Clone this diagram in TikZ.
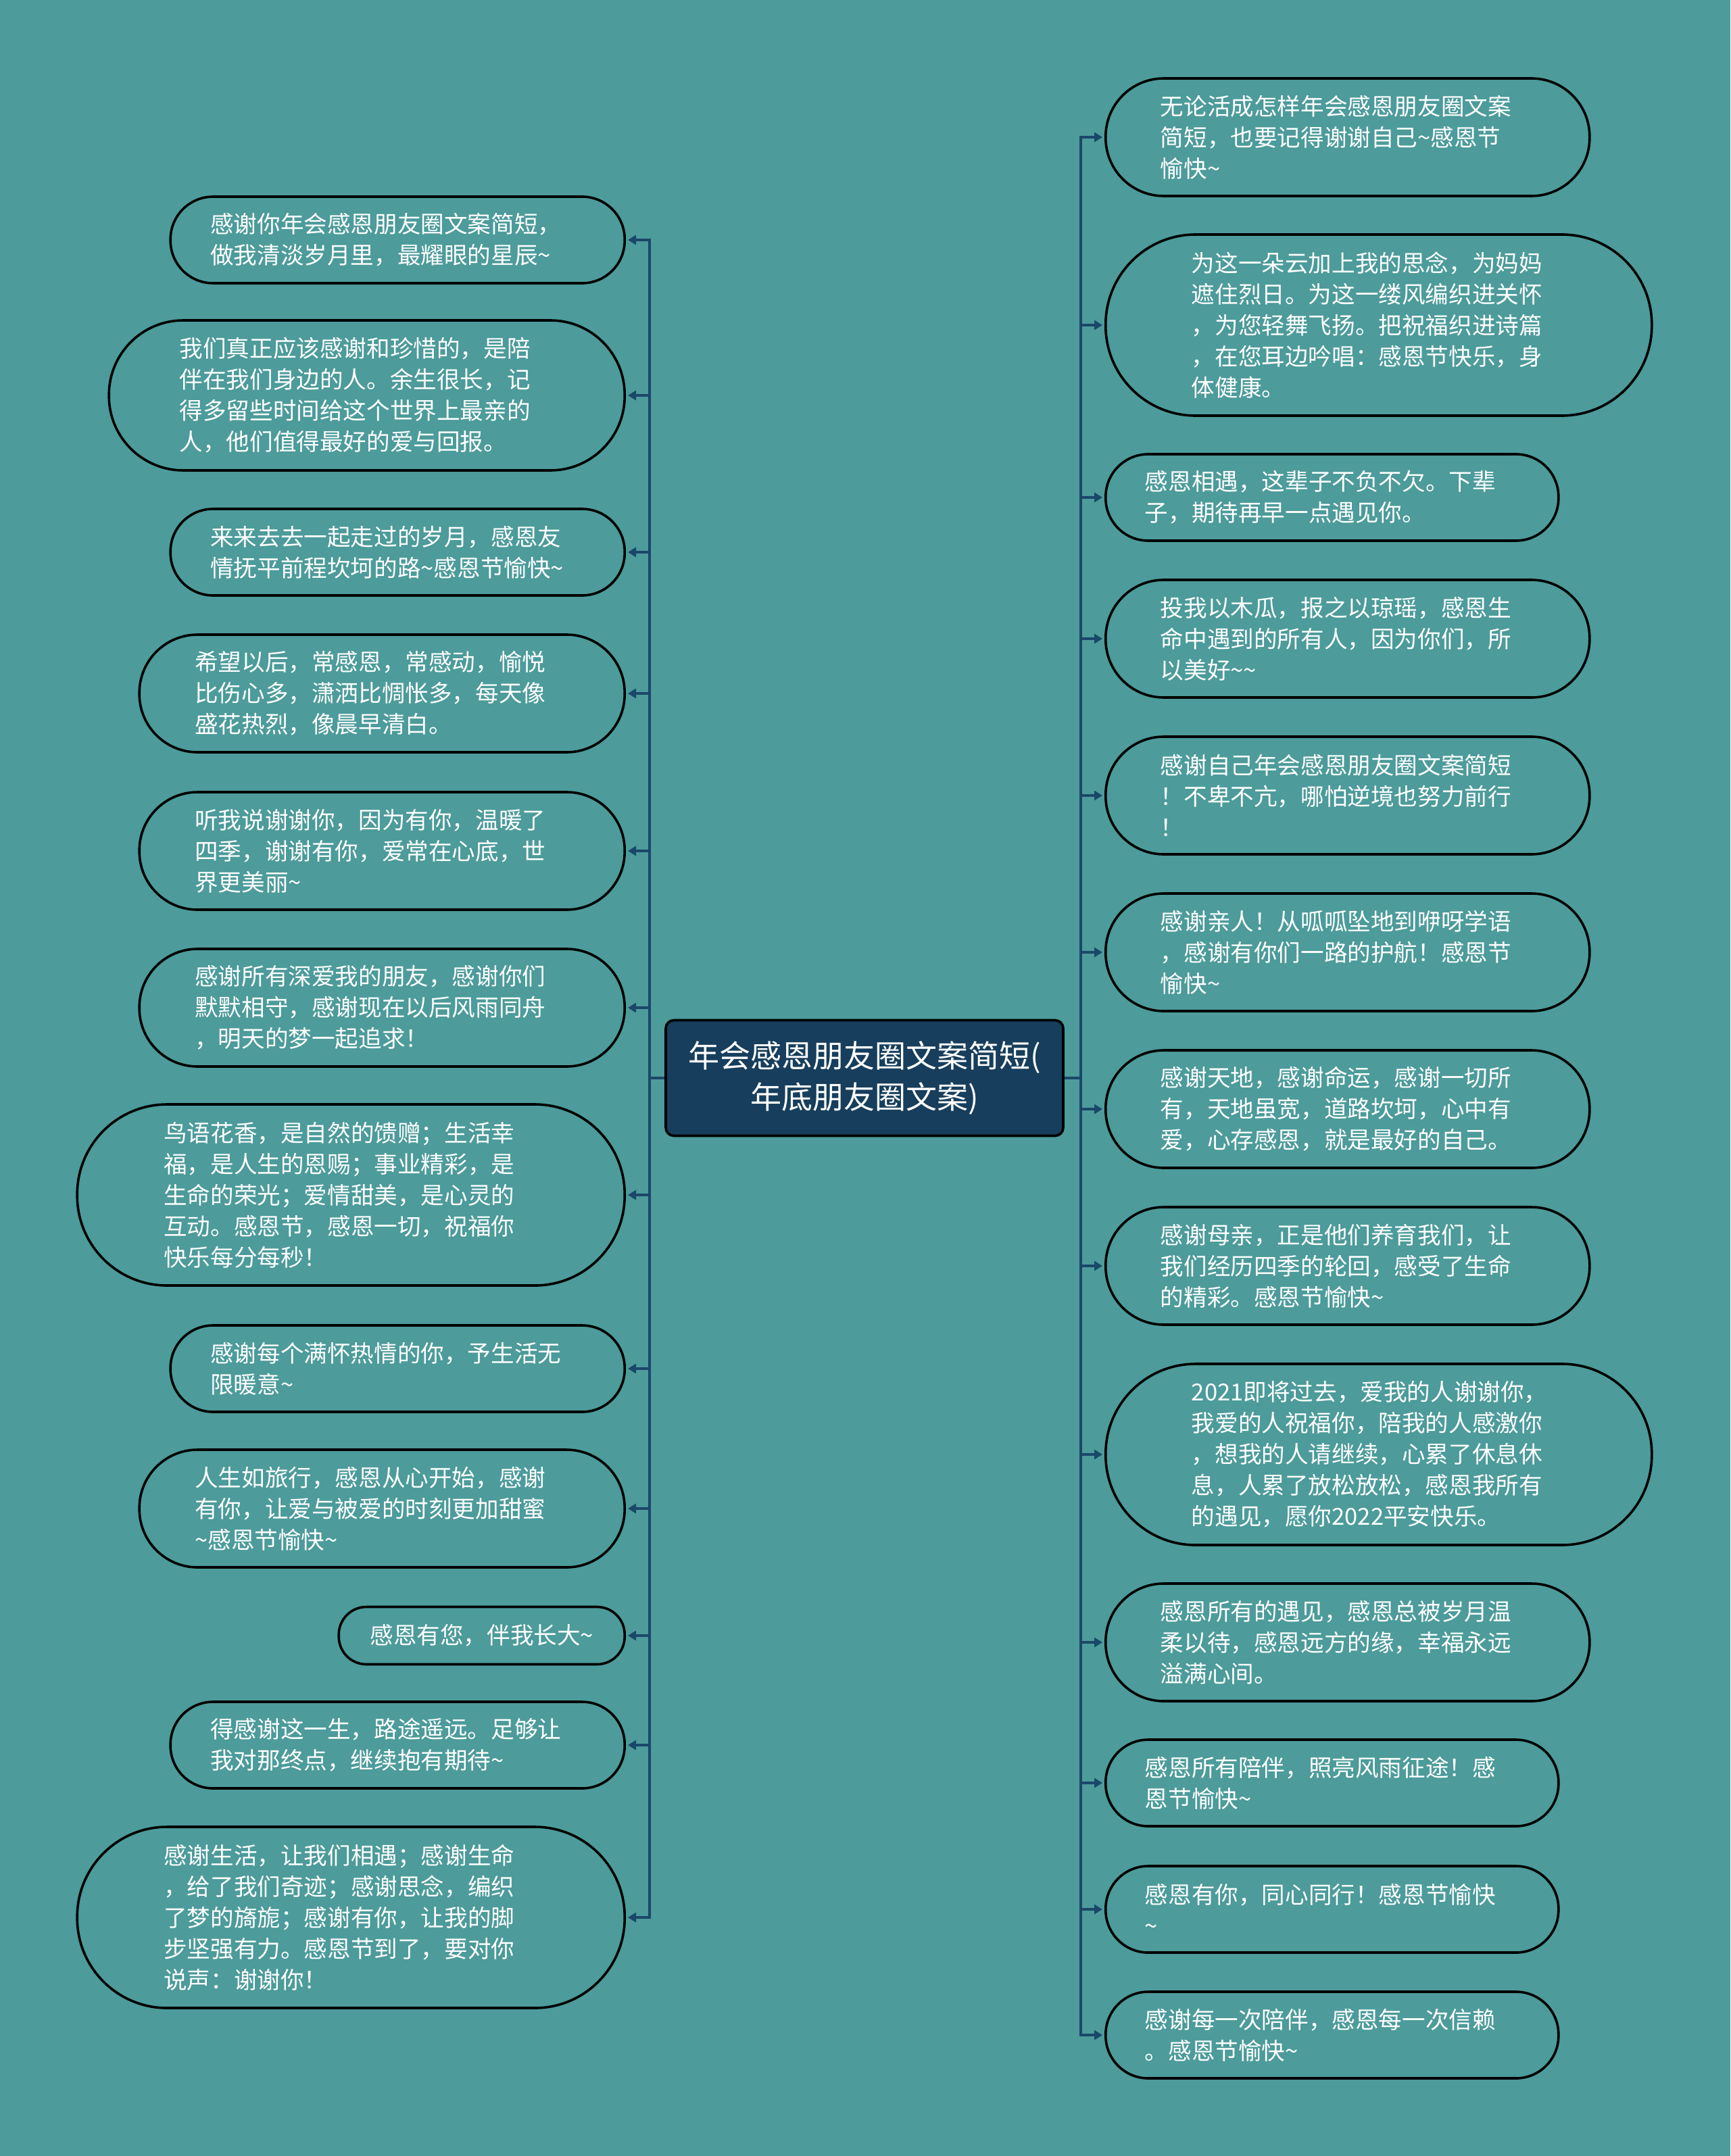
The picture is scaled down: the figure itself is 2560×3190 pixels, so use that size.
\documentclass[tikz,border=0pt]{standalone}
\usepackage{fontspec}
\setmainfont{Noto Sans CJK SC}
\usetikzlibrary{arrows.meta}
\definecolor{bg}{HTML}{4D9B9B}
\definecolor{navy}{HTML}{173E5C}
\definecolor{linkc}{HTML}{1A4868}
\newcommand{\wave}{\textasciitilde{}}
\begin{document}
\begin{tikzpicture}[x=0.5pt,y=-0.5pt,
  bubbase/.style={draw=black, line width=1.8pt, text=white, align=left,
    font=\fontsize{17.3pt}{23pt}\selectfont, inner sep=0pt},
  bub/.style={bubbase, text width=277pt},
  bone/.style={bubbase, minimum height=42.5pt, rounded corners=20.5pt},
  btwo/.style={bub, minimum height=64pt, rounded corners=31.5pt},
  bthree/.style={bub, minimum height=87pt, rounded corners=43pt},
  bfour/.style={bub, minimum height=111pt, rounded corners=55pt},
  bfive/.style={bub, minimum height=134pt, rounded corners=66.5pt},
  lft/.style={anchor=east},
  rgt/.style={anchor=west},
  link/.style={draw=linkc, line width=1.9pt, -{Triangle[length=6pt,width=7pt]}, shorten >=1.5pt},
  root/.style={draw=black, line width=1.8pt, fill=navy, rounded corners=6pt,
    minimum width=294pt, minimum height=85.5pt, text=white, align=center,
    font=\fontsize{23pt}{30.5pt}\selectfont}
]
\fill[bg] (0,0) rectangle (2560,3190);
\useasboundingbox (0,0) rectangle (2560,3190);

\node[root] (C) at (1279,1595) {年会感恩朋友圈文案简短(\\年底朋友圈文案)};

% left nodes
\node[btwo,lft,minimum width=336pt] (L1) at (926,355) {感谢你年会感恩朋友圈文案简短，\\做我清淡岁月里，最耀眼的星辰\wave};
\node[bfour,lft,minimum width=381.5pt] (L2) at (926,585) {我们真正应该感谢和珍惜的，是陪\\伴在我们身边的人。余生很长，记\\得多留些时间给这个世界上最亲的\\人，他们值得最好的爱与回报。};
\node[btwo,lft,minimum width=336pt] (L3) at (926,817) {来来去去一起走过的岁月，感恩友\\情抚平前程坎坷的路\wave 感恩节愉快\wave};
\node[bthree,lft,minimum width=359pt] (L4) at (926,1026) {希望以后，常感恩，常感动，愉悦\\比伤心多，潇洒比惆怅多，每天像\\盛花热烈，像晨早清白。};
\node[bthree,lft,minimum width=359pt] (L5) at (926,1259) {听我说谢谢你，因为有你，温暖了\\四季，谢谢有你，爱常在心底，世\\界更美丽\wave};
\node[bthree,lft,minimum width=359pt] (L6) at (926,1491) {感谢所有深爱我的朋友，感谢你们\\默默相守，感谢现在以后风雨同舟\\，明天的梦一起追求！};
\node[bfive,lft,minimum width=405pt] (L7) at (926,1768) {鸟语花香，是自然的馈赠；生活幸\\福，是人生的恩赐；事业精彩，是\\生命的荣光；爱情甜美，是心灵的\\互动。感恩节，感恩一切，祝福你\\快乐每分每秒！};
\node[btwo,lft,minimum width=336pt] (L8) at (926,2025) {感谢每个满怀热情的你，予生活无\\限暖意\wave};
\node[bthree,lft,minimum width=359pt] (L9) at (926,2232) {人生如旅行，感恩从心开始，感谢\\有你，让爱与被爱的时刻更加甜蜜\\\wave 感恩节愉快\wave};
\node[bone,lft,minimum width=211.5pt] (L10) at (926,2420) {感恩有您，伴我长大\wave};
\node[btwo,lft,minimum width=336pt] (L11) at (926,2582) {得感谢这一生，路途遥远。足够让\\我对那终点，继续抱有期待\wave};
\node[bfive,lft,minimum width=405pt] (L12) at (926,2837) {感谢生活，让我们相遇；感谢生命\\，给了我们奇迹；感谢思念，编织\\了梦的旖旎；感谢有你，让我的脚\\步坚强有力。感恩节到了，要对你\\说声：谢谢你！};

% right nodes
\node[bthree,rgt,minimum width=358pt] (R1) at (1634,203) {无论活成怎样年会感恩朋友圈文案\\简短，也要记得谢谢自己\wave 感恩节\\愉快\wave};
\node[bfive,rgt,minimum width=404pt] (R2) at (1634,481) {为这一朵云加上我的思念，为妈妈\\遮住烈日。为这一缕风编织进关怀\\，为您轻舞飞扬。把祝福织进诗篇\\，在您耳边吟唱：感恩节快乐，身\\体健康。};
\node[btwo,rgt,minimum width=335pt] (R3) at (1634,736) {感恩相遇，这辈子不负不欠。下辈\\子，期待再早一点遇见你。};
\node[bthree,rgt,minimum width=358pt] (R4) at (1634,945) {投我以木瓜，报之以琼瑶，感恩生\\命中遇到的所有人，因为你们，所\\以美好\wave\wave};
\node[bthree,rgt,minimum width=358pt] (R5) at (1634,1177) {感谢自己年会感恩朋友圈文案简短\\！不卑不亢，哪怕逆境也努力前行\\！};
\node[bthree,rgt,minimum width=358pt] (R6) at (1634,1409) {感谢亲人！从呱呱坠地到咿呀学语\\，感谢有你们一路的护航！感恩节\\愉快\wave};
\node[bthree,rgt,minimum width=358pt] (R7) at (1634,1641) {感谢天地，感谢命运，感谢一切所\\有，天地虽宽，道路坎坷，心中有\\爱，心存感恩，就是最好的自己。};
\node[bthree,rgt,minimum width=358pt] (R8) at (1634,1873) {感谢母亲，正是他们养育我们，让\\我们经历四季的轮回，感受了生命\\的精彩。感恩节愉快\wave};
\node[bfive,rgt,minimum width=404pt] (R9) at (1634,2152) {2021即将过去，爱我的人谢谢你，\\我爱的人祝福你，陪我的人感激你\\，想我的人请继续，心累了休息休\\息，人累了放松放松，感恩我所有\\的遇见，愿你2022平安快乐。};
\node[bthree,rgt,minimum width=358pt] (R10) at (1634,2430) {感恩所有的遇见，感恩总被岁月温\\柔以待，感恩远方的缘，幸福永远\\溢满心间。};
\node[btwo,rgt,minimum width=335pt] (R11) at (1634,2638) {感恩所有陪伴，照亮风雨征途！感\\恩节愉快\wave};
\node[btwo,rgt,minimum width=335pt] (R12) at (1634,2825) {感恩有你，同心同行！感恩节愉快\\\wave};
\node[btwo,rgt,minimum width=335pt] (R13) at (1634,3011) {感谢每一次陪伴，感恩每一次信赖\\。感恩节愉快\wave};

% connectors
\foreach \n in {L1,L2,L3,L4,L5,L6,L7,L8,L9,L10,L11,L12}
  \draw[link] (C.west) -- ++(-22,0) |- (\n.east);
\foreach \n in {R1,R2,R3,R4,R5,R6,R7,R8,R9,R10,R11,R12,R13}
  \draw[link] (C.east) -- ++(24,0) |- (\n.west);
\end{tikzpicture}
\end{document}
